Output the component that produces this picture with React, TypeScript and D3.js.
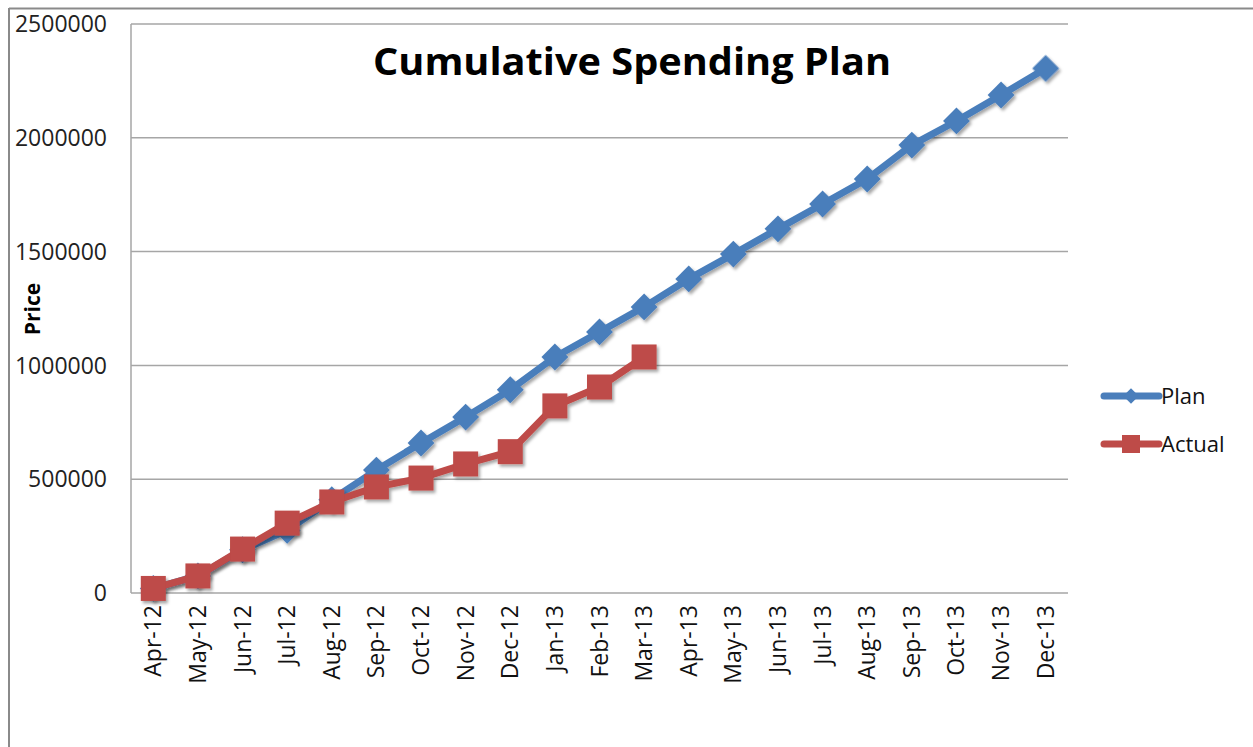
import React, { useEffect, useRef } from 'react';
import * as d3 from 'd3';

const months = [
  'Apr-12', 'May-12', 'Jun-12', 'Jul-12', 'Aug-12', 'Sep-12', 'Oct-12', 'Nov-12', 'Dec-12', 'Jan-13', 'Feb-13',
  'Mar-13', 'Apr-13', 'May-13', 'Jun-13', 'Jul-13', 'Aug-13', 'Sep-13', 'Oct-13', 'Nov-13', 'Dec-13',
];

const planValues = [
  20000, 75000, 190000, 275000, 410000, 540000, 659000, 773000, 893000, 1037000, 1147000,
  1257000, 1380000, 1489000, 1600000, 1709000, 1819000, 1968000, 2074000, 2188000, 2305000,
];
const actualValues = [20000, 75000, 193000, 307000, 400000, 466000, 505000, 567000, 621000, 822000, 905000, 1037000];

const yTicks = [0, 500000, 1000000, 1500000, 2000000, 2500000];

const BLUE = '#4a7ebb';
const RED = '#be4b48';
const FONT = '"Open Sans", "DejaVu Sans", sans-serif';

const W = 1253;
const H = 747;

const App = () => {
  const svgRef = useRef<SVGSVGElement>(null);

  useEffect(() => {
    const svg = d3.select(svgRef.current);
    svg.selectAll('*').remove();

    const plot = { left: 131, right: 1068, top: 24, bottom: 593 };

    const x = d3.scalePoint<string>().domain(months).range([plot.left, plot.right]).padding(0.5);
    const y = d3.scaleLinear().domain([0, 2500000]).range([plot.bottom, plot.top]);

    const defs = svg.append('defs');
    const f = defs.append('filter').attr('id', 'shadow').attr('x', '-30%').attr('y', '-30%').attr('width', '160%').attr('height', '160%');
    f.append('feDropShadow').attr('dx', 2).attr('dy', 2.5).attr('stdDeviation', 1.6).attr('flood-color', '#000').attr('flood-opacity', 0.35);

    // outer frame
    svg.append('line').attr('x1', 9).attr('x2', W).attr('y1', 8.5).attr('y2', 8.5).attr('stroke', '#8a8a8a').attr('stroke-width', 2);
    svg.append('line').attr('x1', 9).attr('x2', 9).attr('y1', 8).attr('y2', H).attr('stroke', '#8a8a8a').attr('stroke-width', 2);

    // gridlines
    svg.append('g').selectAll('line').data(yTicks).enter().append('line')
      .attr('x1', plot.left).attr('x2', plot.right)
      .attr('y1', d => y(d)).attr('y2', d => y(d))
      .attr('stroke', '#a6a6a6').attr('stroke-width', 1.5);
    svg.append('line').attr('x1', plot.left).attr('x2', plot.left).attr('y1', plot.top).attr('y2', plot.bottom)
      .attr('stroke', '#a6a6a6').attr('stroke-width', 1.5);

    // y tick labels
    svg.append('g').selectAll('text').data(yTicks).enter().append('text')
      .attr('x', 107).attr('y', d => y(d)).attr('dy', '0.36em')
      .attr('text-anchor', 'end').attr('font-family', FONT).attr('font-size', 23).attr('fill', '#222')
      .text(d => String(d));

    svg.append('text')
      .attr('transform', 'translate(40, 309) rotate(-90)')
      .attr('text-anchor', 'middle').attr('font-family', FONT).attr('font-size', 21).attr('font-weight', 'bold')
      .text('Price');

    // x labels
    svg.append('g').selectAll('text').data(months).enter().append('text')
      .attr('transform', d => `translate(${x(d)! + 8}, 605) rotate(-90)`)
      .attr('text-anchor', 'end').attr('font-family', FONT).attr('font-size', 23).attr('fill', '#111')
      .text(d => d);

    // title
    svg.append('text').attr('x', 632).attr('y', 75).attr('text-anchor', 'middle')
      .attr('font-family', FONT).attr('font-size', 37).attr('font-weight', 'bold')
      .attr('textLength', 518).attr('lengthAdjust', 'spacingAndGlyphs')
      .text('Cumulative Spending Plan');

    const line = d3.line<number>().x((_, i) => x(months[i])!).y(d => y(d));

    const diamond = d3.symbol().type(d3.symbolSquare).size(360);

    // plan
    const gPlan = svg.append('g').attr('filter', 'url(#shadow)');
    gPlan.append('path').datum(planValues).attr('d', line).attr('fill', 'none')
      .attr('stroke', BLUE).attr('stroke-width', 7).attr('stroke-linejoin', 'round');
    gPlan.selectAll('path.m').data(planValues).enter().append('path').attr('class', 'm')
      .attr('d', diamond)
      .attr('transform', (d, i) => `translate(${x(months[i])}, ${y(d)}) rotate(45)`)
      .attr('fill', BLUE);

    // actual
    const gAct = svg.append('g').attr('filter', 'url(#shadow)');
    gAct.append('path').datum(actualValues).attr('d', line).attr('fill', 'none')
      .attr('stroke', RED).attr('stroke-width', 7).attr('stroke-linejoin', 'round');
    const sq = 25;
    gAct.selectAll('rect').data(actualValues).enter().append('rect')
      .attr('x', (_, i) => x(months[i])! - sq / 2).attr('y', d => y(d) - sq / 2)
      .attr('width', sq).attr('height', sq).attr('fill', RED);

    // legend
    const legend = [
      { name: 'Plan', color: BLUE, y: 396 },
      { name: 'Actual', color: RED, y: 444 },
    ];
    legend.forEach((l, i) => {
      const g = svg.append('g');
      g.append('line').attr('x1', 1104).attr('x2', 1159).attr('y1', l.y).attr('y2', l.y)
        .attr('stroke', l.color).attr('stroke-width', 7).attr('stroke-linecap', 'round');
      if (i === 0) {
        g.append('path').attr('d', d3.symbol().type(d3.symbolSquare).size(120)())
          .attr('transform', `translate(1131, ${l.y}) rotate(45)`).attr('fill', l.color);
      } else {
        g.append('rect').attr('x', 1122).attr('y', l.y - 9).attr('width', 18).attr('height', 18).attr('fill', l.color);
      }
      g.append('text').attr('x', 1161).attr('y', l.y).attr('dy', '0.36em')
        .attr('font-family', FONT).attr('font-size', 22).attr('fill', '#111').text(l.name);
    });
  }, []);

  return (
    <div style={{ position: 'absolute', left: 0, top: 0 }}>
      <svg ref={svgRef} width={W} height={H} style={{ display: 'block', background: '#fff' }} />
    </div>
  );
};

export default App;
